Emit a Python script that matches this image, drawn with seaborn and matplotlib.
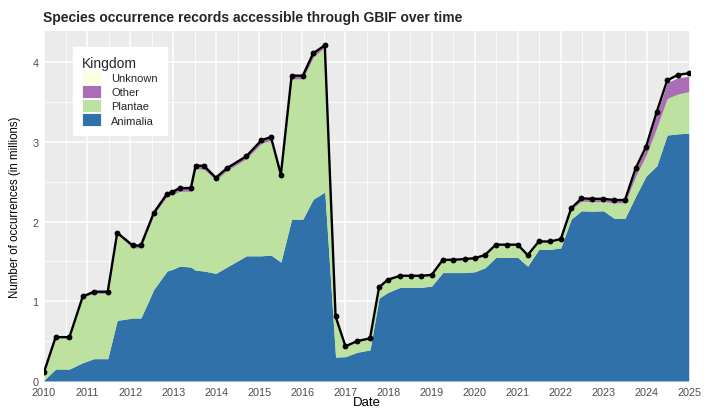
import numpy as np
import pandas as pd
import matplotlib
matplotlib.use("Agg")
import matplotlib.pyplot as plt
from matplotlib.patches import Patch
from matplotlib.ticker import MultipleLocator
import seaborn as sns

# -----------------------------
# Data (millions of records)
# -----------------------------
dates = [2010.00, 2010.27, 2010.59, 2010.90, 2011.16, 2011.48, 2011.70, 2012.06,
         2012.25, 2012.55, 2012.86, 2012.98, 2013.15, 2013.41, 2013.52, 2013.71,
         2013.99, 2014.25, 2014.70, 2015.05, 2015.27, 2015.50, 2015.75, 2016.01,
         2016.25, 2016.52, 2016.77, 2017.00, 2017.27, 2017.57, 2017.78, 2017.98,
         2018.27, 2018.52, 2018.75, 2019.00, 2019.26, 2019.50, 2019.77, 2020.00,
         2020.24, 2020.49, 2020.74, 2021.00, 2021.23, 2021.49, 2021.75, 2022.00,
         2022.24, 2022.48, 2022.73, 2022.99, 2023.24, 2023.49, 2023.74, 2023.98,
         2024.23, 2024.47, 2024.72, 2024.97]

animalia = [0.01, 0.15, 0.15, 0.23, 0.28, 0.28, 0.76, 0.79,
            0.79, 1.15, 1.38, 1.40, 1.44, 1.43, 1.39, 1.38,
            1.35, 1.43, 1.57, 1.57, 1.58, 1.49, 2.03, 2.03,
            2.28, 2.37, 0.30, 0.305, 0.36, 0.39, 1.04, 1.11,
            1.175, 1.175, 1.175, 1.19, 1.36, 1.36, 1.36, 1.37,
            1.42, 1.55, 1.55, 1.55, 1.44, 1.65, 1.65, 1.67,
            2.03, 2.135, 2.13, 2.135, 2.04, 2.04, 2.32, 2.57,
            2.70, 3.085, 3.10, 3.11]

plantae = [0.10, 0.395, 0.395, 0.82, 0.82, 0.82, 1.08, 0.88,
           0.88, 0.94, 0.94, 0.94, 0.94, 0.95, 1.27, 1.28,
           1.17, 1.21, 1.22, 1.41, 1.44, 1.08, 1.76, 1.76,
           1.78, 1.82, 0.505, 0.13, 0.14, 0.145, 0.135, 0.16,
           0.145, 0.145, 0.145, 0.14, 0.16, 0.16, 0.17, 0.17,
           0.16, 0.16, 0.16, 0.16, 0.14, 0.10, 0.10, 0.11,
           0.125, 0.12, 0.12, 0.115, 0.195, 0.195, 0.25, 0.26,
           0.48, 0.46, 0.50, 0.52]

other = [0.0, 0.005, 0.005, 0.01, 0.02, 0.02, 0.02, 0.03,
         0.03, 0.02, 0.03, 0.03, 0.04, 0.04, 0.04, 0.04,
         0.03, 0.03, 0.03, 0.04, 0.04, 0.02, 0.04, 0.04,
         0.05, 0.02, 0.005, 0.0, 0.0, 0.0, 0.0, 0.0,
         0.0, 0.0, 0.0, 0.0, 0.0, 0.0, 0.0, 0.0,
         0.0, 0.0, 0.0, 0.0, 0.0, 0.0, 0.0, 0.0,
         0.01, 0.03, 0.03, 0.03, 0.03, 0.03, 0.09, 0.10,
         0.18, 0.195, 0.21, 0.19]

unknown = [0.0] * 49 + [0.005, 0.005, 0.005, 0.005, 0.005, 0.01, 0.01,
                        0.02, 0.03, 0.03, 0.04]

kingdoms = ["Animalia", "Plantae", "Other", "Unknown"]
colors = ["#3171A9", "#BDE29F", "#A96EB5", "#FDFDE0"]

df = pd.DataFrame({"date": dates, "Animalia": animalia, "Plantae": plantae,
                   "Other": other, "Unknown": unknown})
df["total"] = df[kingdoms].sum(axis=1)

# -----------------------------
# Style (ggplot-like grey theme)
# -----------------------------
sns.set_theme(style="darkgrid", rc={
    "axes.facecolor": "#EBEBEB",
    "grid.color": "white",
    "axes.edgecolor": "#EBEBEB",
})
plt.rcParams["font.family"] = ["Liberation Sans", "DejaVu Sans"]

fig = plt.figure(figsize=(7.07, 4.10), dpi=100)
ax = fig.add_axes([44 / 707, 1 - 382 / 410, 646 / 707, 350 / 410])

ax.stackplot(df["date"], [df[k] for k in kingdoms], colors=colors,
             linewidth=0, zorder=2)
sns.lineplot(data=df, x="date", y="total", ax=ax, color="black",
             linewidth=1.7, marker="o", markersize=4.2, markeredgewidth=0,
             zorder=3)

ax.set_xlim(2010, 2025)
ax.set_ylim(0, 4.39)
ax.xaxis.set_major_locator(MultipleLocator(1))
ax.xaxis.set_minor_locator(MultipleLocator(0.5))
ax.yaxis.set_major_locator(MultipleLocator(1))
ax.yaxis.set_minor_locator(MultipleLocator(0.5))
ax.set_xticklabels([str(int(t)) for t in ax.get_xticks()])
ax.grid(which="major", color="white", linewidth=1.1)
ax.grid(which="minor", color="white", linewidth=0.55)
for s in ax.spines.values():
    s.set_visible(False)

ax.tick_params(which="major", length=2.5, width=0.8, color="#333333",
               labelcolor="#4D4D4D", labelsize=7.8, pad=1.5)
ax.tick_params(which="minor", length=0)

ax.set_xlabel("Date", fontsize=9.5, color="black")
ax.set_ylabel("Number of occurrences (in millions)", fontsize=8.3, color="black")
ax.xaxis.set_label_coords(0.5, -0.043)
ax.yaxis.set_label_coords(-0.036, 0.5)

fig.text(43 / 707, 1 - 18 / 410, "Species occurrence records accessible through GBIF over time",
         fontsize=10, fontweight="bold", ha="left", va="center")

handles = [Patch(facecolor=c, edgecolor="white", linewidth=0.6, label=k)
           for k, c in zip(kingdoms, colors)][::-1]
leg = ax.legend(handles=handles, title="Kingdom", loc="upper left",
                bbox_to_anchor=(0.045, 0.955), frameon=True, fancybox=False,
                facecolor="white", edgecolor="white", framealpha=1,
                fontsize=8, title_fontsize=10, handlelength=1.75,
                handleheight=1.4, labelspacing=0.12, handletextpad=0.9,
                borderpad=0.8, borderaxespad=0, alignment="left")

fig.savefig("out.png", dpi=100)
